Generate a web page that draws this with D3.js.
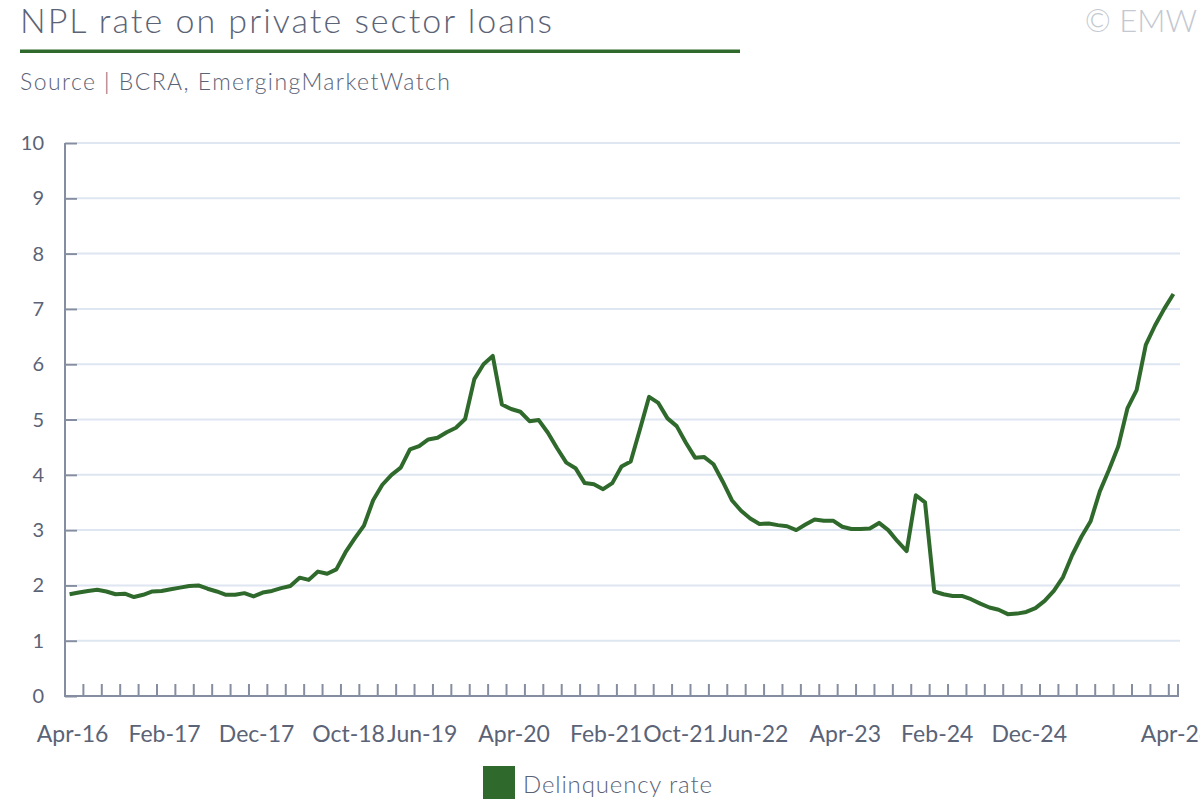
<!DOCTYPE html>
<html>
<head>
<meta charset="utf-8">
<script src="https://cdn.jsdelivr.net/npm/d3@7/dist/d3.min.js"></script>
<style>
  html, body { margin: 0; padding: 0; background: #ffffff; overflow: hidden; }
  svg { display: block; font-family: Lato, "Open Sans", sans-serif; }
</style>
</head>
<body>
<svg id="chart" width="1200" height="800"></svg>
<script>
// ---- Data ----
const months = [
  "Apr-16","May-16","Jun-16","Jul-16","Aug-16","Sep-16","Oct-16","Nov-16","Dec-16",
  "Jan-17","Feb-17","Mar-17","Apr-17","May-17","Jun-17","Jul-17","Aug-17","Sep-17","Oct-17","Nov-17","Dec-17",
  "Jan-18","Feb-18","Mar-18","Apr-18","May-18","Jun-18","Jul-18","Aug-18","Sep-18","Oct-18","Nov-18","Dec-18",
  "Jan-19","Feb-19","Mar-19","Apr-19","May-19","Jun-19","Jul-19","Aug-19","Sep-19","Oct-19","Nov-19","Dec-19",
  "Jan-20","Feb-20","Mar-20","Apr-20","May-20","Jun-20","Jul-20","Aug-20","Sep-20","Oct-20","Nov-20","Dec-20",
  "Jan-21","Feb-21","Mar-21","Apr-21","May-21","Jun-21","Jul-21","Aug-21","Sep-21","Oct-21","Nov-21","Dec-21",
  "Jan-22","Feb-22","Mar-22","Apr-22","May-22","Jun-22","Jul-22","Aug-22","Sep-22","Oct-22","Nov-22","Dec-22",
  "Jan-23","Feb-23","Mar-23","Apr-23","May-23","Jun-23","Jul-23","Aug-23","Sep-23","Oct-23","Nov-23","Dec-23",
  "Jan-24","Feb-24","Mar-24","Apr-24","May-24","Jun-24","Jul-24","Aug-24","Sep-24","Oct-24","Nov-24","Dec-24",
  "Jan-25","Feb-25","Mar-25","Apr-25","May-25","Jun-25","Jul-25","Aug-25","Sep-25","Oct-25","Nov-25","Dec-25",
  "Jan-26","Feb-26","Mar-26","Apr-26"
];

const delinquencyRate = [
  1.84,1.87,1.90,1.92,1.89,1.84,1.85,1.79,1.83,
  1.89,1.90,1.93,1.96,1.99,2.00,1.94,1.89,1.83,1.83,1.86,1.80,
  1.87,1.90,1.95,1.99,2.14,2.10,2.25,2.21,2.29,2.60,2.85,3.08,
  3.54,3.82,4.00,4.13,4.46,4.52,4.64,4.67,4.77,4.85,5.01,5.73,
  6.00,6.15,5.27,5.19,5.14,4.97,4.99,4.76,4.48,4.22,4.12,3.85,
  3.83,3.74,3.85,4.15,4.24,4.82,5.41,5.30,5.02,4.88,4.58,4.31,
  4.32,4.19,3.88,3.54,3.35,3.21,3.11,3.12,3.09,3.07,3.00,3.10,
  3.19,3.17,3.17,3.06,3.02,3.02,3.03,3.13,3.00,2.80,2.62,3.63,
  3.50,1.89,1.84,1.81,1.81,1.75,1.67,1.60,1.56,1.48,1.49,1.52,
  1.59,1.72,1.90,2.15,2.55,2.88,3.16,3.70,4.09,4.51,5.20,5.53,
  6.35,6.70,7.00,7.27
];

const xTickLabels = ["Apr-16","Feb-17","Dec-17","Oct-18","Jun-19","Apr-20","Feb-21","Oct-21","Jun-22","Apr-23","Feb-24","Dec-24","Apr-26"];
const yTicks = [0,1,2,3,4,5,6,7,8,9,10];

const title = "NPL rate on private sector loans";
const subtitle = "Source | BCRA, EmergingMarketWatch";
const seriesName = "Delinquency rate";
const copyright = "\u00A9 EMW";

// ---- Styles ----
const green = "#2f6a2c";
const textColor = "#5b6377";
const axisColor = "#858da0";
const gridColor = "#dde6f1";

const svg = d3.select("#chart");

const plot = { left: 65, right: 1178, top: 143, bottom: 696 };

const x = d3.scaleBand().domain(months).range([plot.left, plot.right]).padding(0);
const y = d3.scaleLinear().domain([0, 10]).range([plot.bottom, plot.top]);
const cx = d => x(d) + x.bandwidth() / 2;

// Header
svg.append("text")
  .attr("x", 20).attr("y", 33)
  .attr("font-size", 34).attr("font-weight", 300)
  .attr("textLength", 532).attr("lengthAdjust", "spacing")
  .attr("fill", textColor)
  .text(title);

svg.append("rect")
  .attr("x", 20).attr("y", 49.5).attr("width", 720).attr("height", 3.5)
  .attr("fill", green);

svg.append("text")
  .attr("x", 20).attr("y", 90)
  .attr("font-size", 23).attr("font-weight", 300)
  .attr("textLength", 430).attr("lengthAdjust", "spacing")
  .attr("fill", textColor)
  .text(subtitle);

svg.append("text")
  .attr("x", 1197).attr("y", 32)
  .attr("text-anchor", "end")
  .attr("font-size", 31).attr("font-weight", 300)
  .attr("fill", "#c3c8d1")
  .text(copyright);

// Grid lines
svg.append("g").selectAll("line")
  .data(yTicks.filter(t => t > 0))
  .join("line")
  .attr("x1", plot.left + 12).attr("x2", plot.right + 2)
  .attr("y1", d => y(d)).attr("y2", d => y(d))
  .attr("stroke", gridColor).attr("stroke-width", 2);

// Y axis
const yAxis = d3.axisRight(y).tickValues(yTicks).tickSize(12).tickFormat("");
const gy = svg.append("g").attr("transform", `translate(${plot.left},0)`).call(yAxis);
gy.select(".domain").remove();
gy.selectAll(".tick line").attr("stroke", axisColor).attr("stroke-width", 2);

svg.append("g").selectAll("text")
  .data(yTicks)
  .join("text")
  .attr("x", 44).attr("y", d => y(d) + 2)
  .attr("text-anchor", "end")
  .attr("dominant-baseline", "middle")
  .attr("font-size", 20)
  .attr("fill", textColor)
  .text(d => d);

// X axis ticks: every second band boundary, plus the axis end
const tickCats = months.filter((m, i) => i % 2 === 0);
const xAxis = d3.axisTop(x).tickValues(tickCats).tickSize(12).tickFormat("");
const gx = svg.append("g").attr("transform", `translate(0,${plot.bottom})`).call(xAxis);
gx.select(".domain").remove();
gx.selectAll(".tick").attr("transform", d => `translate(${x(d)},0)`);
gx.selectAll(".tick line").attr("stroke", axisColor).attr("stroke-width", 2);
svg.append("line")
  .attr("x1", plot.right).attr("x2", plot.right)
  .attr("y1", plot.bottom).attr("y2", plot.bottom - 12)
  .attr("stroke", axisColor).attr("stroke-width", 2);

// Axis lines
svg.append("line")
  .attr("x1", plot.left).attr("x2", plot.left)
  .attr("y1", plot.top).attr("y2", plot.bottom + 1)
  .attr("stroke", axisColor).attr("stroke-width", 2);
svg.append("line")
  .attr("x1", plot.left - 1).attr("x2", plot.right + 1)
  .attr("y1", plot.bottom).attr("y2", plot.bottom)
  .attr("stroke", axisColor).attr("stroke-width", 2);

// X labels
svg.append("g").selectAll("text")
  .data(xTickLabels)
  .join("text")
  .attr("x", d => cx(d) + 3)
  .attr("y", 742)
  .attr("text-anchor", "middle")
  .attr("font-size", 23)
  .attr("fill", textColor)
  .text(d => d);

// Line
const line = d3.line()
  .x((d, i) => cx(months[i]))
  .y(d => y(d));

svg.append("path")
  .datum(delinquencyRate)
  .attr("d", line)
  .attr("fill", "none")
  .attr("stroke", green)
  .attr("stroke-width", 4)
  .attr("stroke-linejoin", "round")
  .attr("stroke-linecap", "butt");

// Legend
const legend = svg.append("g");
legend.append("rect")
  .attr("x", 483).attr("y", 766).attr("width", 32).attr("height", 33)
  .attr("fill", green);
legend.append("text")
  .attr("x", 523).attr("y", 793)
  .attr("font-size", 24).attr("font-weight", 300)
  .attr("textLength", 189).attr("lengthAdjust", "spacing")
  .attr("fill", textColor)
  .text(seriesName);
</script>
</body>
</html>
